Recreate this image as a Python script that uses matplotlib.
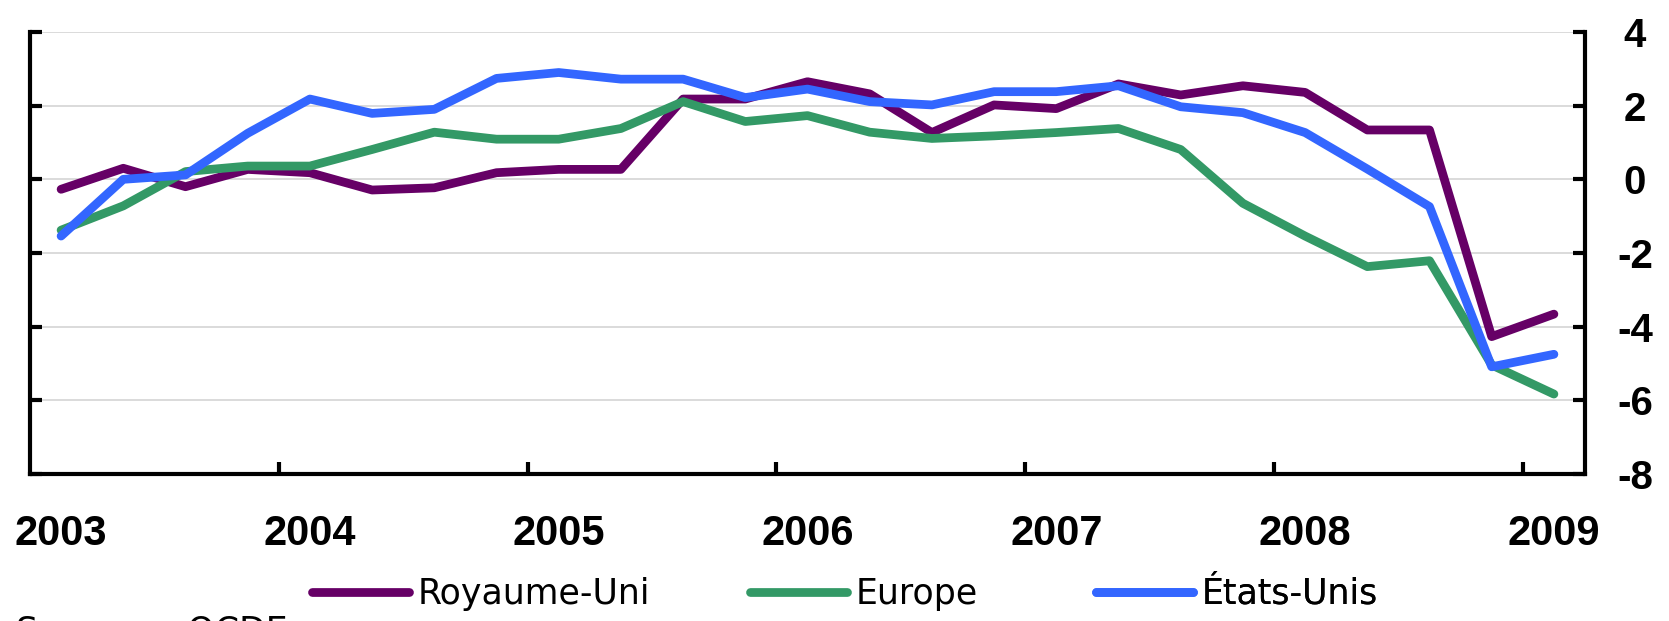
import numpy as np
import matplotlib
matplotlib.use("Agg")
import matplotlib.pyplot as plt
from matplotlib.ticker import FixedLocator, FixedFormatter, NullFormatter

# ---- data (quarterly, 2003T1 .. 2009T1) ----
royaume_uni = [-0.27, 0.30, -0.20, 0.27, 0.18, -0.29, -0.23, 0.18, 0.27, 0.27,
               2.18, 2.18, 2.65, 2.32, 1.27, 2.02, 1.92, 2.59, 2.29, 2.54,
               2.36, 1.34, 1.34, -4.27, -3.66]
europe = [-1.38, -0.72, 0.21, 0.36, 0.36, 0.81, 1.28, 1.09, 1.09, 1.38,
          2.11, 1.57, 1.73, 1.28, 1.11, 1.18, 1.27, 1.38, 0.81, -0.65,
          -1.54, -2.37, -2.21, -5.04, -5.83]
etats_unis = [-1.54, 0.00, 0.12, 1.25, 2.18, 1.79, 1.90, 2.74, 2.90, 2.72,
              2.72, 2.22, 2.45, 2.11, 2.02, 2.38, 2.38, 2.54, 1.97, 1.81,
              1.27, 0.28, -0.74, -5.09, -4.75]
series_names = ["Royaume-Uni", "Europe", "États-Unis"]
series_colors = ["#660066", "#339966", "#3366FF"]
year_labels = ["2003", "2004", "2005", "2006", "2007", "2008", "2009"]
y_ticks = [-8, -6, -4, -2, 0, 2, 4]
y_tick_labels = ["-8", "-6", "-4", "-2", "0", "2", "4"]
source_text = "Sources : OCDE"

W, H = 1669, 621
fig = plt.figure(figsize=(W / 100, H / 100), dpi=100)
ax = fig.add_axes([30 / W, (H - 474) / H, 1555 / W, 442 / H])

x = np.arange(len(royaume_uni))
lines = []
for vals, name, col in zip([royaume_uni, europe, etats_unis], series_names, series_colors):
    ln, = ax.plot(x, vals, color=col, lw=6.3, solid_capstyle="round",
                  solid_joinstyle="round", label=name, zorder=3)
    lines.append(ln)

ax.set_xlim(-0.5, len(x) - 0.5)
ax.set_ylim(-8, 4)

# y axis
ax.set_yticks(y_ticks)
ax.set_yticklabels(y_tick_labels)
ax.yaxis.grid(True, color="#d4d4d4", lw=1.2)
ax.set_axisbelow(True)
ax.tick_params(axis="y", which="major", direction="in", left=True, right=True,
               labelleft=False, labelright=True, length=8.5, width=3,
               pad=36, labelsize=29)
for t in ax.get_yticklabels():
    t.set_fontweight("bold")
    t.set_fontfamily("Liberation Sans")
    t.set_ha("center")

# x axis: ticks between years, labels at first quarter of each year
year_pos = [4 * i for i in range(len(year_labels))]
ax.xaxis.set_major_locator(FixedLocator([p - 0.5 for p in year_pos[1:]]))
ax.xaxis.set_major_formatter(NullFormatter())
ax.xaxis.set_minor_locator(FixedLocator(year_pos))
ax.xaxis.set_minor_formatter(FixedFormatter(year_labels))
ax.tick_params(axis="x", which="major", direction="in", length=8.5, width=3)
ax.tick_params(axis="x", which="minor", length=0, pad=29, labelsize=30)
for t in ax.xaxis.get_minorticklabels():
    t.set_fontweight("bold")
    t.set_fontfamily("Liberation Sans")

for s in ["left", "right", "bottom"]:
    ax.spines[s].set_linewidth(3)
    ax.spines[s].set_color("black")
ax.spines["top"].set_visible(False)

# legend: one entry per block, positioned like the original
leg_font = {"family": ["Liberation Sans Narrow", "DejaVu Sans"], "size": 25}
leg_x = [312 / W, 750 / W, 1096 / W]
leg_y = (H - 594) / H
for ln, lx in zip(lines, leg_x):
    lg = ax.legend(handles=[ln], loc="center left", bbox_to_anchor=(lx, leg_y),
                   bbox_transform=fig.transFigure, frameon=False, borderpad=0,
                   borderaxespad=0, handlelength=2.8, handletextpad=0.25,
                   prop=leg_font)
    ax.add_artist(lg)

fig.text(16 / W, 7 / H, source_text, va="top", ha="left",
         fontfamily=["Liberation Sans Narrow", "DejaVu Sans"], fontsize=25)

fig.savefig("out.png", dpi=100)
